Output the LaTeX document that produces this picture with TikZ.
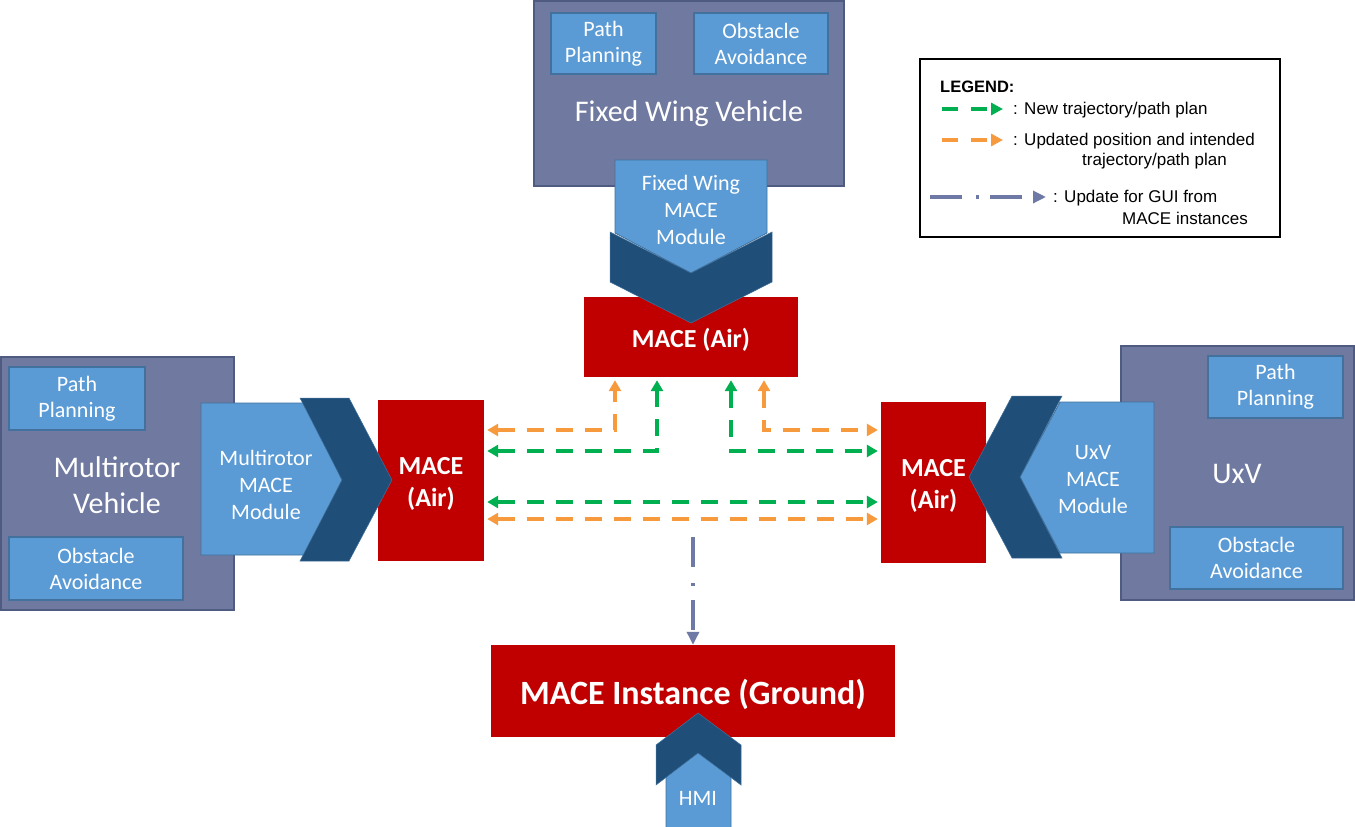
\documentclass[tikz,border=0pt]{standalone}
\usepackage{fontspec}
\setmainfont{Carlito}
\newfontfamily\arialf{Liberation Sans}
\usetikzlibrary{arrows.meta,calc}
\definecolor{veh}{HTML}{7079A0}
\definecolor{vehb}{HTML}{4F5B80}
\definecolor{lb}{HTML}{5B9BD5}
\definecolor{lbb}{HTML}{41719C}
\definecolor{db}{HTML}{1F4E79}
\definecolor{mred}{HTML}{C00000}
\definecolor{grn}{HTML}{00B050}
\definecolor{org}{HTML}{F79A3E}
\definecolor{gui}{HTML}{6F79A6}
\begin{document}
\begin{tikzpicture}[x=1pt,y=-1pt,
  vehbox/.style={draw=vehb,fill=veh,line width=1.5pt,inner sep=0pt},
  subbox/.style={draw=lbb,fill=lb,line width=1.2pt,inner sep=0pt,text=white,align=center,
     font=\fontsize{22}{26}\selectfont},
  redbox/.style={fill=mred,inner sep=0pt,text=white,align=center},
  modshape/.style={draw=lbb,fill=lb,line width=0.8pt},
  chev/.style={fill=db,draw=lbb,line width=0.5pt},
  wtext/.style={text=white,align=center,inner sep=0pt},
  modtext/.style={wtext,font=\fontsize{22}{27}\selectfont},
  vtext/.style={wtext,font=\fontsize{30}{36}\selectfont},
  airtext/.style={font=\bfseries\fontsize{26}{32}\selectfont},
  grnarr/.style={draw=grn,line width=3.2pt,dash pattern=on 17pt off 12pt,{Triangle[length=11pt,width=12pt]}-{Triangle[length=11pt,width=12pt]},shorten <=3pt,shorten >=3pt},
  orgarr/.style={draw=org,line width=3.2pt,dash pattern=on 17pt off 12pt,{Triangle[length=11pt,width=12pt]}-{Triangle[length=11pt,width=12pt]},shorten <=3pt,shorten >=3pt},
  guiarr/.style={draw=gui,line width=3.2pt,dash pattern=on 30pt off 16pt on 3pt off 14pt,-{Triangle[length=13pt,width=12pt]}},
  lgtext/.style={font=\arialf\fontsize{17}{20}\selectfont,anchor=west,inner sep=0pt}
]
\useasboundingbox[fill=white] (0,0) rectangle (1355,827);

% vehicles
\node[vehbox,minimum width=310,minimum height=185] (fwv) at (689,93.5) {};
\node[subbox,minimum width=105,minimum height=61] (fwpp) at (603.5,43.5) {Path\\Planning};
\node[subbox,minimum width=134,minimum height=61] (fwoa) at (761,43.5) {Obstacle\\Avoidance};
\node[vtext] (fwvt) at (689,114) {Fixed Wing Vehicle};

\node[vehbox,minimum width=233,minimum height=253] (mrv) at (117.5,483.5) {};
\node[subbox,minimum width=136,minimum height=63] (mrpp) at (77,398.5) {Path\\Planning};
\node[subbox,minimum width=174,minimum height=63] (mroa) at (96,568.5) {Obstacle\\Avoidance};
\node[vtext] (mrvt) at (117,485) {Multirotor\\Vehicle};

\node[vehbox,minimum width=233,minimum height=254] (uxv) at (1237.5,473) {};
\node[subbox,minimum width=135,minimum height=62] (uxpp) at (1275.5,387) {Path\\Planning};
\node[subbox,minimum width=173,minimum height=62] (uxoa) at (1256.5,558) {Obstacle\\Avoidance};
\node[vtext] (uxvt) at (1237,474) {UxV};

% MACE red boxes
\node[redbox,minimum width=214,minimum height=80] (airT) at (691,337) {};
\node[redbox,minimum width=106,minimum height=161] (airL) at (431,480.5) {};
\node[redbox,minimum width=105,minimum height=161] (airR) at (933.5,482.5) {};
\node[redbox,minimum width=404,minimum height=92] (ground) at (693,691) {};

% modules (light blue)
\draw[modshape] (615,160) -- (767,160) -- (767,233) -- (691,273) -- (615,233) -- cycle;
\draw[modshape] (201,403) -- (305,403) -- (342,480) -- (305,555) -- (201,555) -- cycle;
\draw[modshape] (1154,402) -- (1154,553) -- (1060,553) -- (1020,477) -- (1060,402) -- cycle;
\draw[modshape] (666,827) -- (666,765) -- (698,753) -- (731,765) -- (731,827);

% chevrons
\draw[chev] (610,232) -- (691,273) -- (772,232) -- (772,282) -- (691,323) -- (610,282) -- cycle;
\draw[chev] (300,398) -- (349,398) -- (392,480) -- (349,561) -- (300,561) -- (342,480) -- cycle;
\draw[chev] (1012,396) -- (1062,396) -- (1020,477) -- (1062,558) -- (1012,558) -- (969,477) -- cycle;
\draw[chev] (656,785) -- (656,745) -- (698,713) -- (741,745) -- (741,785) -- (698,753) -- cycle;

% texts
\node[modtext] (fwmt) at (691,210) {Fixed Wing\\MACE\\Module};
\node[modtext] (mrmt) at (266,485) {Multirotor\\MACE\\Module};
\node[modtext] (uxmt) at (1093,480) {UxV\\MACE\\Module};
\node[modtext] (hmit) at (698,798) {HMI};
\node[wtext,airtext] (airTt) at (691,340) {MACE (Air)};
\node[wtext,airtext] (airLt) at (431,484) {MACE\\(Air)};
\node[wtext,airtext] (airRt) at (933.5,486) {MACE\\(Air)};
\node[wtext,font=\bfseries\fontsize{34}{36}\selectfont] (groundt) at (693,694) {MACE Instance (Ground)};

% connectors
\draw[orgarr] (airL.east |- 0,430) -| (airT.south -| 615,0);
\draw[grnarr] (airL.east |- 0,451) -| (airT.south -| 657,0);
\draw[grnarr] (airT.south -| 731,0) |- (airR.west |- 0,451);
\draw[orgarr] (airT.south -| 764,0) |- (airR.west |- 0,430);
\draw[grnarr] (airL.east |- 0,502) -- (airR.west |- 0,502);
\draw[orgarr] (airL.east |- 0,519) -- (airR.west |- 0,519);
\coordinate (guistart) at (693,537);
\draw[guiarr] (guistart) -- (ground.north);

% legend
\node[draw=black,line width=1.3pt,minimum width=360,minimum height=178,inner sep=0pt] (legend) at (1100,148) {};
\node[lgtext,font=\arialf\bfseries\fontsize{16.5}{20}\selectfont] (lgtitle) at (940,87) {LEGEND:};
\coordinate (lg1a) at (942,109); \coordinate (lg1b) at (1003,109);
\coordinate (lg2a) at (942,140); \coordinate (lg2b) at (1003,140);
\coordinate (lg3a) at (930,197); \coordinate (lg3b) at (1046,197);
\draw[draw=grn,line width=3.2pt,dash pattern=on 16pt off 13pt,-{Triangle[length=12pt,width=12pt]}] (lg1a) -- (lg1b);
\draw[draw=org,line width=3.2pt,dash pattern=on 16pt off 13pt,-{Triangle[length=12pt,width=12pt]}] (lg2a) -- (lg2b);
\draw[draw=gui,line width=3.2pt,dash pattern=on 32pt off 14pt on 3pt off 11pt,-{Triangle[length=13pt,width=12pt]}] (lg3a) -- (lg3b);
\node[lgtext] (lgt1) at (1013,110) {: New trajectory/path plan};
\node[lgtext] (lgt2) at (1013,141) {: Updated position and intended};
\node[lgtext] (lgt2b) at (1082,161) {trajectory/path plan};
\node[lgtext] (lgt3) at (1053,198) {: Update for GUI from};
\node[lgtext] (lgt3b) at (1122,218) {MACE instances};
\end{tikzpicture}
\end{document}
